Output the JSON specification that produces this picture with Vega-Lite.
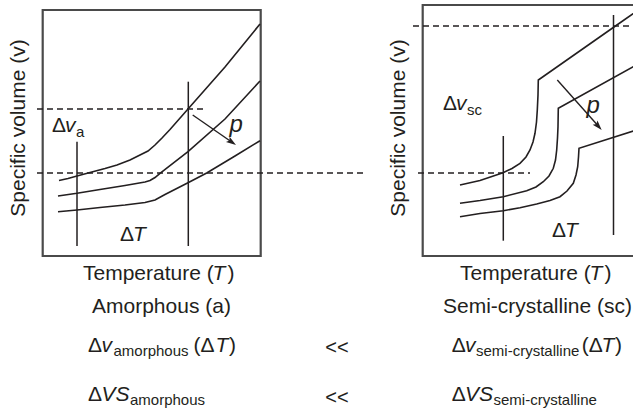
{
  "$schema": "https://vega.github.io/schema/vega-lite/v6.json",
  "width": 633,
  "height": 416,
  "autosize": {"type": "none"},
  "padding": 0,
  "background": "white",
  "config": {"view": {"stroke": null}, "text": {"font": "Liberation Sans", "color": "#231f20"}},
  "layer": [
    {
      "data": {"values": [
        {"x": 42.7, "x2": 260.7, "y": 10, "y2": 256},
        {"x": 422.7, "x2": 660, "y": 5, "y2": 256}
      ]},
      "mark": {"type": "rect", "fillOpacity": 0, "stroke": "#4a4a4a", "strokeWidth": 2.2},
      "encoding": {
        "x": {"field": "x", "type": "quantitative", "scale": {"domain": [0, 633], "nice": false, "zero": false}, "axis": null},
        "x2": {"field": "x2"},
        "y": {"field": "y", "type": "quantitative", "scale": {"domain": [0, 416], "nice": false, "zero": false, "reverse": true}, "axis": null},
        "y2": {"field": "y2"}
      }
    },
    {
      "data": {"values": [
        {"c": "A", "i": 0, "x": 59, "y": 180.5},
        {"c": "A", "i": 1, "x": 68, "y": 178.5},
        {"c": "A", "i": 2, "x": 77, "y": 176},
        {"c": "A", "i": 3, "x": 90, "y": 172.5},
        {"c": "A", "i": 4, "x": 105, "y": 168.5},
        {"c": "A", "i": 5, "x": 117, "y": 165},
        {"c": "A", "i": 6, "x": 130, "y": 160},
        {"c": "A", "i": 7, "x": 140, "y": 155},
        {"c": "A", "i": 8, "x": 148, "y": 151},
        {"c": "A", "i": 9, "x": 155, "y": 145},
        {"c": "A", "i": 10, "x": 162, "y": 138},
        {"c": "A", "i": 11, "x": 170, "y": 129.5},
        {"c": "A", "i": 12, "x": 188, "y": 109},
        {"c": "A", "i": 13, "x": 225, "y": 67},
        {"c": "A", "i": 14, "x": 260, "y": 24},
        {"c": "B", "i": 0, "x": 58, "y": 196},
        {"c": "B", "i": 1, "x": 77, "y": 193.3},
        {"c": "B", "i": 2, "x": 100, "y": 189.5},
        {"c": "B", "i": 3, "x": 125, "y": 185.5},
        {"c": "B", "i": 4, "x": 145, "y": 182},
        {"c": "B", "i": 5, "x": 150, "y": 180.5},
        {"c": "B", "i": 6, "x": 155, "y": 177.5},
        {"c": "B", "i": 7, "x": 160, "y": 173.3},
        {"c": "B", "i": 8, "x": 188, "y": 151.7},
        {"c": "B", "i": 9, "x": 225, "y": 119},
        {"c": "B", "i": 10, "x": 260, "y": 81},
        {"c": "C", "i": 0, "x": 58, "y": 211.7},
        {"c": "C", "i": 1, "x": 77, "y": 210},
        {"c": "C", "i": 2, "x": 100, "y": 207.5},
        {"c": "C", "i": 3, "x": 125, "y": 205},
        {"c": "C", "i": 4, "x": 145, "y": 202.5},
        {"c": "C", "i": 5, "x": 155, "y": 200},
        {"c": "C", "i": 6, "x": 165, "y": 194.5},
        {"c": "C", "i": 7, "x": 188, "y": 182.7},
        {"c": "C", "i": 8, "x": 206.7, "y": 173},
        {"c": "C", "i": 9, "x": 235, "y": 156},
        {"c": "C", "i": 10, "x": 260, "y": 140.7},
        {"c": "D", "i": 0, "x": 460, "y": 185},
        {"c": "D", "i": 1, "x": 480, "y": 180.5},
        {"c": "D", "i": 2, "x": 503, "y": 172.7},
        {"c": "D", "i": 3, "x": 512, "y": 168.5},
        {"c": "D", "i": 4, "x": 520, "y": 163.3},
        {"c": "D", "i": 5, "x": 526, "y": 157},
        {"c": "D", "i": 6, "x": 530, "y": 150},
        {"c": "D", "i": 7, "x": 533, "y": 142},
        {"c": "D", "i": 8, "x": 535, "y": 133.3},
        {"c": "D", "i": 9, "x": 536.5, "y": 122},
        {"c": "D", "i": 10, "x": 537.3, "y": 110},
        {"c": "D", "i": 11, "x": 538, "y": 95},
        {"c": "D", "i": 12, "x": 538.3, "y": 80},
        {"c": "D", "i": 13, "x": 614, "y": 27},
        {"c": "D", "i": 14, "x": 640, "y": 8.8},
        {"c": "E", "i": 0, "x": 460, "y": 203.3},
        {"c": "E", "i": 1, "x": 480, "y": 200.5},
        {"c": "E", "i": 2, "x": 503.3, "y": 196.7},
        {"c": "E", "i": 3, "x": 526.7, "y": 190.7},
        {"c": "E", "i": 4, "x": 536, "y": 187},
        {"c": "E", "i": 5, "x": 543.3, "y": 181.7},
        {"c": "E", "i": 6, "x": 549, "y": 176},
        {"c": "E", "i": 7, "x": 553.3, "y": 168.3},
        {"c": "E", "i": 8, "x": 555.5, "y": 160},
        {"c": "E", "i": 9, "x": 556.7, "y": 150},
        {"c": "E", "i": 10, "x": 557.5, "y": 138},
        {"c": "E", "i": 11, "x": 558, "y": 126.7},
        {"c": "E", "i": 12, "x": 558.3, "y": 108.3},
        {"c": "E", "i": 13, "x": 633.3, "y": 66.7},
        {"c": "E", "i": 14, "x": 640, "y": 63},
        {"c": "F", "i": 0, "x": 460, "y": 216.7},
        {"c": "F", "i": 1, "x": 480, "y": 213.5},
        {"c": "F", "i": 2, "x": 503.3, "y": 210.7},
        {"c": "F", "i": 3, "x": 520, "y": 207.7},
        {"c": "F", "i": 4, "x": 536.7, "y": 204},
        {"c": "F", "i": 5, "x": 550, "y": 200.5},
        {"c": "F", "i": 6, "x": 560, "y": 196.7},
        {"c": "F", "i": 7, "x": 567, "y": 191},
        {"c": "F", "i": 8, "x": 573.3, "y": 183.3},
        {"c": "F", "i": 9, "x": 576, "y": 175},
        {"c": "F", "i": 10, "x": 577.7, "y": 166.7},
        {"c": "F", "i": 11, "x": 578.5, "y": 157},
        {"c": "F", "i": 12, "x": 579, "y": 148.3},
        {"c": "F", "i": 13, "x": 633.3, "y": 131},
        {"c": "F", "i": 14, "x": 640, "y": 128.9}
      ]},
      "mark": {"type": "line", "color": "#231f20", "strokeWidth": 1.6, "interpolate": "linear"},
      "encoding": {
        "x": {"field": "x", "type": "quantitative", "scale": {"domain": [0, 633], "nice": false, "zero": false}, "axis": null},
        "y": {"field": "y", "type": "quantitative", "scale": {"domain": [0, 416], "nice": false, "zero": false, "reverse": true}, "axis": null},
        "detail": {"field": "c"},
        "order": {"field": "i", "type": "quantitative"}
      }
    },
    {
      "data": {"values": [
        {"x": 77, "y": 141.7, "y2": 246},
        {"x": 188.3, "y": 81.7, "y2": 246},
        {"x": 503.3, "y": 136, "y2": 240.7},
        {"x": 613.5, "y": 15, "y2": 235}
      ]},
      "mark": {"type": "rule", "color": "#231f20", "strokeWidth": 1.5},
      "encoding": {
        "x": {"field": "x", "type": "quantitative", "scale": {"domain": [0, 633], "nice": false, "zero": false}, "axis": null},
        "y": {"field": "y", "type": "quantitative", "scale": {"domain": [0, 416], "nice": false, "zero": false, "reverse": true}, "axis": null},
        "y2": {"field": "y2"}
      }
    },
    {
      "data": {"values": [
        {"x": 37, "x2": 206, "y": 109},
        {"x": 37, "x2": 365, "y": 173},
        {"x": 418, "x2": 530, "y": 173},
        {"x": 413, "x2": 640, "y": 26}
      ]},
      "mark": {"type": "rule", "color": "#231f20", "strokeWidth": 1.5, "strokeDash": [6, 4]},
      "encoding": {
        "x": {"field": "x", "type": "quantitative", "scale": {"domain": [0, 633], "nice": false, "zero": false}, "axis": null},
        "x2": {"field": "x2"},
        "y": {"field": "y", "type": "quantitative", "scale": {"domain": [0, 416], "nice": false, "zero": false, "reverse": true}, "axis": null}
      }
    },
    {
      "data": {"values": [
        {"x": 192.7, "y": 115, "x2": 232, "y2": 142.3},
        {"x": 557.3, "y": 80, "x2": 598.5, "y2": 126.3}
      ]},
      "mark": {"type": "rule", "color": "#231f20", "strokeWidth": 1.4},
      "encoding": {
        "x": {"field": "x", "type": "quantitative", "scale": {"domain": [0, 633], "nice": false, "zero": false}, "axis": null},
        "x2": {"field": "x2"},
        "y": {"field": "y", "type": "quantitative", "scale": {"domain": [0, 416], "nice": false, "zero": false, "reverse": true}, "axis": null},
        "y2": {"field": "y2"}
      }
    },
    {
      "data": {"values": [{"x": 236, "y": 145}]},
      "mark": {"type": "point", "shape": "M0,0L0.32,1L0,0.8L-0.32,1Z", "filled": true, "color": "#231f20", "opacity": 1, "size": 400, "angle": 124.7},
      "encoding": {
        "x": {"field": "x", "type": "quantitative", "scale": {"domain": [0, 633], "nice": false, "zero": false}, "axis": null},
        "y": {"field": "y", "type": "quantitative", "scale": {"domain": [0, 416], "nice": false, "zero": false, "reverse": true}, "axis": null}
      }
    },
    {
      "data": {"values": [{"x": 601.7, "y": 130}]},
      "mark": {"type": "point", "shape": "M0,0L0.32,1L0,0.8L-0.32,1Z", "filled": true, "color": "#231f20", "opacity": 1, "size": 400, "angle": 138.4},
      "encoding": {
        "x": {"field": "x", "type": "quantitative", "scale": {"domain": [0, 633], "nice": false, "zero": false}, "axis": null},
        "y": {"field": "y", "type": "quantitative", "scale": {"domain": [0, 416], "nice": false, "zero": false, "reverse": true}, "axis": null}
      }
    },
    {
      "data": {"values": [
        {"x": 52, "y": 132, "t": "Δ"},
        {"x": 443, "y": 110, "t": "Δ"},
        {"x": 120, "y": 241, "t": "Δ"},
        {"x": 552, "y": 237, "t": "Δ"},
        {"x": 83, "y": 279.5, "t": "Temperature ("},
        {"x": 227.5, "y": 279.5, "t": ")"},
        {"x": 460, "y": 279.5, "t": "Temperature ("},
        {"x": 604.5, "y": 279.5, "t": ")"},
        {"x": 92, "y": 312.5, "t": "Amorphous (a)"},
        {"x": 443, "y": 312.5, "t": "Semi-crystalline (sc)"},
        {"x": 88, "y": 351.5, "t": "Δ"},
        {"x": 193.5, "y": 351.5, "t": "(Δ"},
        {"x": 229, "y": 351.5, "t": ")"},
        {"x": 451.7, "y": 351.5, "t": "Δ"},
        {"x": 581.7, "y": 351.5, "t": "(Δ"},
        {"x": 615, "y": 351.5, "t": ")"},
        {"x": 88, "y": 400.5, "t": "Δ"},
        {"x": 451.7, "y": 400.5, "t": "Δ"}
      ]},
      "mark": {"type": "text", "fontSize": 21, "align": "left", "baseline": "alphabetic"},
      "encoding": {
        "x": {"field": "x", "type": "quantitative", "scale": {"domain": [0, 633], "nice": false, "zero": false}, "axis": null},
        "y": {"field": "y", "type": "quantitative", "scale": {"domain": [0, 416], "nice": false, "zero": false, "reverse": true}, "axis": null},
        "text": {"field": "t"}
      }
    },
    {
      "data": {"values": [
        {"x": 65, "y": 132, "t": "v"},
        {"x": 456, "y": 110, "t": "v"},
        {"x": 133, "y": 241, "t": "T"},
        {"x": 565, "y": 237, "t": "T"},
        {"x": 212.5, "y": 279.5, "t": "T"},
        {"x": 589.5, "y": 279.5, "t": "T"},
        {"x": 101.5, "y": 351.5, "t": "v"},
        {"x": 215.5, "y": 351.5, "t": "T"},
        {"x": 465, "y": 351.5, "t": "v"},
        {"x": 601.5, "y": 351.5, "t": "T"},
        {"x": 101.5, "y": 400.5, "t": "VS"},
        {"x": 465, "y": 400.5, "t": "VS"}
      ]},
      "mark": {"type": "text", "fontSize": 21, "fontStyle": "italic", "align": "left", "baseline": "alphabetic"},
      "encoding": {
        "x": {"field": "x", "type": "quantitative", "scale": {"domain": [0, 633], "nice": false, "zero": false}, "axis": null},
        "y": {"field": "y", "type": "quantitative", "scale": {"domain": [0, 416], "nice": false, "zero": false, "reverse": true}, "axis": null},
        "text": {"field": "t"}
      }
    },
    {
      "data": {"values": [
        {"x": 229.5, "y": 132, "t": "p"},
        {"x": 586.5, "y": 113, "t": "p"}
      ]},
      "mark": {"type": "text", "fontSize": 24, "fontStyle": "italic", "align": "left", "baseline": "alphabetic"},
      "encoding": {
        "x": {"field": "x", "type": "quantitative", "scale": {"domain": [0, 633], "nice": false, "zero": false}, "axis": null},
        "y": {"field": "y", "type": "quantitative", "scale": {"domain": [0, 416], "nice": false, "zero": false, "reverse": true}, "axis": null},
        "text": {"field": "t"}
      }
    },
    {
      "data": {"values": [
        {"x": 76, "y": 137, "t": "a"},
        {"x": 467, "y": 115, "t": "sc"},
        {"x": 113.5, "y": 355.5, "t": "amorphous"},
        {"x": 476, "y": 355.5, "t": "semi-crystalline"},
        {"x": 130, "y": 405, "t": "amorphous"},
        {"x": 493.5, "y": 405, "t": "semi-crystalline"}
      ]},
      "mark": {"type": "text", "fontSize": 15, "align": "left", "baseline": "alphabetic"},
      "encoding": {
        "x": {"field": "x", "type": "quantitative", "scale": {"domain": [0, 633], "nice": false, "zero": false}, "axis": null},
        "y": {"field": "y", "type": "quantitative", "scale": {"domain": [0, 416], "nice": false, "zero": false, "reverse": true}, "axis": null},
        "text": {"field": "t"}
      }
    },
    {
      "data": {"values": [
        {"x": 19, "y": 128, "t": "Specific volume (v)"},
        {"x": 399, "y": 128, "t": "Specific volume (v)"}
      ]},
      "mark": {"type": "text", "fontSize": 21, "angle": 270, "align": "center", "baseline": "middle"},
      "encoding": {
        "x": {"field": "x", "type": "quantitative", "scale": {"domain": [0, 633], "nice": false, "zero": false}, "axis": null},
        "y": {"field": "y", "type": "quantitative", "scale": {"domain": [0, 416], "nice": false, "zero": false, "reverse": true}, "axis": null},
        "text": {"field": "t"}
      }
    },
    {
      "data": {"values": [
        {"x": 337, "y": 353.5, "t": "<<"},
        {"x": 337, "y": 403.5, "t": "<<"}
      ]},
      "mark": {"type": "text", "fontSize": 20, "align": "center", "baseline": "alphabetic"},
      "encoding": {
        "x": {"field": "x", "type": "quantitative", "scale": {"domain": [0, 633], "nice": false, "zero": false}, "axis": null},
        "y": {"field": "y", "type": "quantitative", "scale": {"domain": [0, 416], "nice": false, "zero": false, "reverse": true}, "axis": null},
        "text": {"field": "t"}
      }
    }
  ]
}
